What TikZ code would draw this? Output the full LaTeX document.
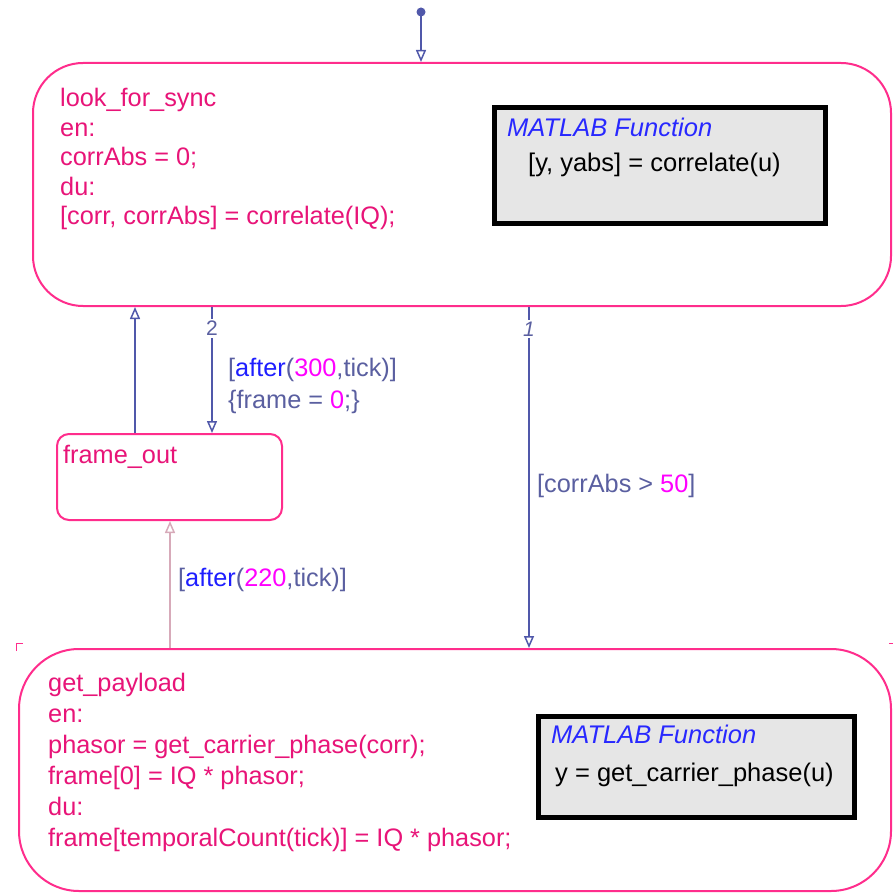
\documentclass[tikz,border=0pt]{standalone}
\usepackage{fontspec}
\setmainfont{Liberation Sans}
\usetikzlibrary{arrows.meta,calc}
\definecolor{StateClr}{RGB}{255,45,140}
\definecolor{StateTxt}{RGB}{232,20,120}
\definecolor{TransClr}{RGB}{80,88,170}
\definecolor{FadeClr}{RGB}{215,170,185}
\definecolor{LabelClr}{RGB}{90,95,160}
\definecolor{KwClr}{RGB}{30,30,255}
\definecolor{NumClr}{RGB}{255,0,255}
\definecolor{FnClr}{RGB}{40,40,255}
\definecolor{BoxFill}{RGB}{230,230,230}
\newcommand\kw[1]{\textcolor{KwClr}{#1}}
\newcommand\nm[1]{\textcolor{NumClr}{#1}}

\begin{document}
\begin{tikzpicture}[x=1pt,y=-1pt,
  state/.style={draw=StateClr,line width=2pt,fill=white},
  statetext/.style={text=StateTxt,align=left,inner sep=0pt,anchor=north west,
    font=\fontsize{25.3}{29.5}\selectfont},
  fnbox/.style={draw=black,line width=5pt,fill=BoxFill},
  fntitle/.style={text=FnClr,inner sep=0pt,anchor=base west,font=\fontsize{25.5}{29}\selectfont\itshape},
  fnbody/.style={inner sep=0pt,anchor=base west,font=\fontsize{25.5}{29}\selectfont},
  trans/.style={draw=TransClr,line width=1.5pt,-{Triangle[open,length=12pt,width=10pt]}},
  translabel/.style={text=LabelClr,inner sep=0pt,anchor=base west,align=left,
    font=\fontsize{25.3}{32}\selectfont},
  prio/.style={text=LabelClr,fill=white,inner sep=2pt,font=\fontsize{21}{22}\selectfont}]
\useasboundingbox (0,0) rectangle (893,893);

% states
\node[state,rounded corners=50pt,minimum width=858pt,minimum height=243pt,anchor=north west] (lfs) at (32,62) {};
\node[state,rounded corners=12pt,minimum width=225pt,minimum height=86pt,anchor=north west] (frameout) at (56,433) {};
\node[state,rounded corners=60pt,minimum width=872pt,minimum height=242pt,anchor=north west] (getpl) at (18,648) {};

\node[statetext] (lfstext) at (60,88) {look\_for\_sync\\en:\\corrAbs = 0;\\du:\\{}[corr, corrAbs] = correlate(IQ);};
\node[statetext] (fotext) at (63,445) {frame\_out};
\node[statetext,font=\fontsize{25.3}{31}\selectfont] (gptext) at (48,673) {get\_payload\\en:\\phasor = get\_carrier\_phase(corr);\\frame[0] = IQ * phasor;\\du:\\frame[temporalCount(tick)] = IQ * phasor;};

% corner marks
\draw[StateClr,line width=1pt] (16,651) -- (16,643) -- (23,643);
\draw[StateClr,line width=1pt] (889,643) -- (893,643);

% MATLAB functions
\node[fnbox,minimum width=331pt,minimum height=116pt,anchor=north west] (fn1) at (492,105) {};
\node[fntitle] at (507,137) {MATLAB Function};
\node[fnbody] at (528,172) {[y, yabs] = correlate(u)};
\node[fnbox,minimum width=316pt,minimum height=101pt,anchor=north west] (fn2) at (536,714) {};
\node[fntitle] at (551,743) {MATLAB Function};
\node[fnbody] at (555,781) {y = get\_carrier\_phase(u)};

% transitions
\coordinate (dflt) at (421,12);
\coordinate (xa) at (135,0);
\coordinate (xb) at (212,0);
\coordinate (xc) at (529,0);
\coordinate (xd) at (170,0);
\fill[TransClr] (dflt) circle (4.5pt);
\draw[trans] (dflt) -- (lfs.north -| dflt);
\draw[trans] (frameout.north -| xa) -- (lfs.south -| xa);
\draw[trans] (lfs.south -| xb) -- (frameout.north -| xb) node[prio,pos=0.17] {2};
\draw[trans] (lfs.south -| xc) -- (getpl.north -| xc) node[prio,pos=0.065] {\itshape 1};
\draw[trans,draw=FadeClr] (getpl.north -| xd) -- (frameout.south -| xd);

\node[translabel] at (228,408) {[\kw{after}(\nm{300},tick)]\\\{frame = \nm{0};\}};
\node[translabel] at (537,492) {[corrAbs > \nm{50}]};
\node[translabel] at (178,586) {[\kw{after}(\nm{220},tick)]};
\end{tikzpicture}
\end{document}
